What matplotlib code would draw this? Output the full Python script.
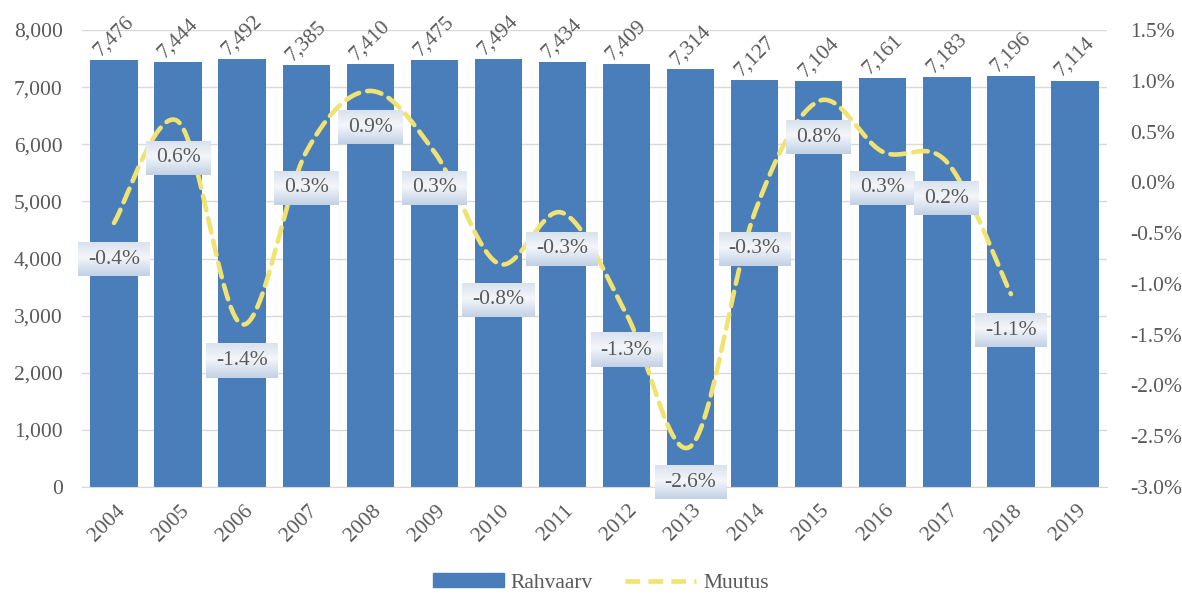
import numpy as np
import matplotlib
matplotlib.use('Agg')
import matplotlib.pyplot as plt
import matplotlib.transforms as mtransforms
from matplotlib.patches import Patch
from matplotlib.lines import Line2D
from matplotlib.ticker import FuncFormatter, MultipleLocator
from matplotlib.colors import to_rgb

years = [str(y) for y in range(2004, 2020)]
population = [7476, 7444, 7492, 7385, 7410, 7475, 7494, 7434, 7409, 7314,
              7127, 7104, 7161, 7183, 7196, 7114]
change_pct = [-0.4, 0.6, -1.4, 0.3, 0.9, 0.3, -0.8, -0.3, -1.3, -2.6,
              -0.3, 0.8, 0.3, 0.2, -1.1]
bar_label = 'Rahvaarv'
line_label = 'Muutus'

plt.rcParams['font.family'] = ['Liberation Serif', 'DejaVu Serif']
TXT = '#595959'
BAR = '#4a7ebb'
LINE = '#f1e372'
GRID = '#d9d9d9'
FS = 15.5

W, H = 1182, 595
fig = plt.figure(figsize=(W / 100, H / 100), dpi=100)
ax = fig.add_axes([82 / W, 108 / H, 1025 / W, 457 / H])
x = np.arange(len(years))
ax.bar(x, population, width=0.74, color=BAR, zorder=2)
ax.set_xlim(-0.5, len(years) - 0.5)
ax.set_ylim(0, 8000)
ax.yaxis.set_major_locator(MultipleLocator(1000))
ax.yaxis.set_major_formatter(FuncFormatter(lambda v, p: f'{int(v):,}'))
ax.grid(axis='y', color=GRID, lw=1)
ax.set_axisbelow(True)
for s in ['top', 'left', 'right']:
    ax.spines[s].set_visible(False)
ax.spines['bottom'].set_color(GRID)
ax.tick_params(axis='both', length=0, colors=TXT, labelsize=FS)
ax.tick_params(axis='y', pad=14)
ax.set_xticks(x)
ax.set_xticklabels(years, rotation=45, ha='right', va='center', rotation_mode='anchor')
ax.tick_params(axis='x', pad=15)
shift = mtransforms.ScaledTranslation(8 / 100, 0, fig.dpi_scale_trans)
for lab in ax.get_xticklabels():
    lab.set_transform(lab.get_transform() + shift)

for xi, v in zip(x, population):
    ax.annotate(f'{v:,}', (xi, v), xytext=(0, 17), textcoords='offset points',
                rotation=45, ha='center', va='center', color=TXT, fontsize=FS, zorder=3)

ax2 = ax.twinx()
YMIN, YMAX = -3.0, 1.5
ax2.set_ylim(YMIN, YMAX)
ax2.yaxis.set_major_locator(MultipleLocator(0.5))
ax2.yaxis.set_major_formatter(FuncFormatter(lambda v, p: f'{v:.1f}%'))
for s in ['top', 'left', 'right', 'bottom']:
    ax2.spines[s].set_visible(False)
ax2.tick_params(axis='y', length=0, colors=TXT, labelsize=FS, pad=17)

# smoothed line (Catmull-Rom in screen-proportional space)
lx = np.arange(len(change_pct), dtype=float)
ly = np.array(change_pct, dtype=float)
sx, sy = 1025 / len(years), 457 / (YMAX - YMIN)
P = np.column_stack([lx * sx, ly * sy])
Pp = np.vstack([P[0], P, P[-1]])
curve = []
for i in range(1, len(Pp) - 2):
    p0, p1, p2, p3 = Pp[i - 1], Pp[i], Pp[i + 1], Pp[i + 2]
    c1 = p1 + (p2 - p0) / 6
    c2 = p2 - (p3 - p1) / 6
    t = np.linspace(0, 1, 30)[:, None]
    seg = (1 - t) ** 3 * p1 + 3 * (1 - t) ** 2 * t * c1 + 3 * (1 - t) * t ** 2 * c2 + t ** 3 * p2
    curve.append(seg if i == 1 else seg[1:])
curve = np.vstack(curve)
ax2.plot(curve[:, 0] / sx, curve[:, 1] / sy, color=LINE, lw=3.3,
         ls=(0, (3.2, 1.8)), dash_capstyle='round', zorder=3)

texts = []
for xi, v in zip(lx, ly):
    t = ax2.annotate(f'{v:.1f}%', (xi, v), xytext=(0, -26), textcoords='offset points',
                     ha='center', va='center', color=TXT, fontsize=FS, zorder=6)
    texts.append(t)

fig.legend(handles=[Patch(color=BAR),
                    Line2D([], [], color=LINE, lw=3.3, ls=(0, (3.2, 1.8)))],
           labels=[bar_label, line_label], loc='center',
           bbox_to_anchor=(601 / W, 12 / H), ncol=2, frameon=False, fontsize=FS,
           handlelength=3.3, handleheight=0.6, columnspacing=1.5,
           handletextpad=0.3, labelcolor=TXT)

# gradient label boxes
fig.canvas.draw()
r = fig.canvas.get_renderer()
top, mid, bot = np.array(to_rgb('#d9e2ee')), np.array(to_rgb('#f4f6fa')), np.array(to_rgb('#c2d1e5'))
n = 40
grad = np.zeros((n, 1, 3))
for k in range(n):
    f = k / (n - 1)
    grad[k, 0] = top + (mid - top) * (f / 0.45) if f < 0.45 else mid + (bot - mid) * ((f - 0.45) / 0.55)
inv = ax2.transData.inverted()
for t in texts:
    bb = t.get_window_extent(r)
    cx = (bb.x0 + bb.x1) / 2
    cy = (bb.y0 + bb.y1) / 2
    hw = bb.width / 2 + 10
    hh = 17
    (x0, y0) = inv.transform((cx - hw, cy - hh))
    (x1, y1) = inv.transform((cx + hw, cy + hh))
    ax2.imshow(grad, extent=[x0, x1, y0, y1], aspect='auto', origin='upper',
               zorder=5, interpolation='bilinear', clip_on=False)
ax2.set_xlim(-0.5, len(years) - 0.5)
ax2.set_ylim(YMIN, YMAX)

fig.savefig('out.png', dpi=100)
